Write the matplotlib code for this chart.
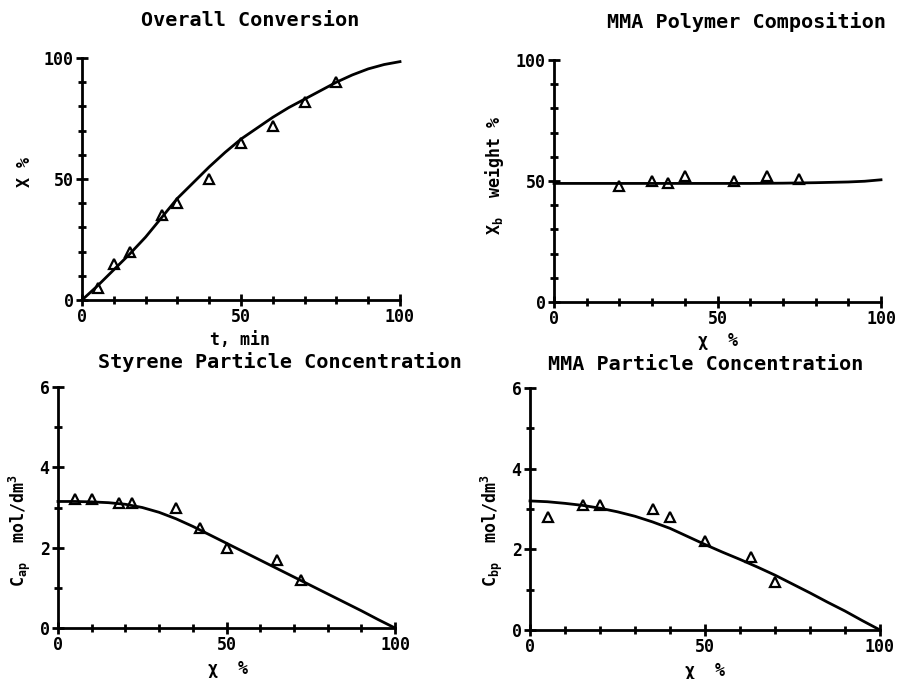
import numpy as np
import matplotlib
matplotlib.use("Agg")
import matplotlib.pyplot as plt
from matplotlib.ticker import MultipleLocator

plt.rcParams["font.family"] = "DejaVu Sans Mono"
plt.rcParams["font.weight"] = "bold"
plt.rcParams["mathtext.default"] = "regular"

# overall conversion vs time
conv_t = [5, 10, 15, 25, 30, 40, 50, 60, 70, 80]
conv_x = [5, 15, 20, 35, 40, 50, 65, 72, 82, 90]
conv_model_t = [0, 5, 10, 15, 20, 25, 30, 35, 40, 45, 50, 55, 60, 65, 70,
                75, 80, 85, 90, 95, 100]
conv_model_x = [0, 6, 12.5, 19, 26, 34, 42, 48.5, 55, 61, 66.5, 71, 75.5,
                79.5, 83, 86.5, 90, 93, 95.5, 97.3, 98.5]

# MMA polymer composition vs conversion
comp_x = [20, 30, 35, 40, 55, 65, 75]
comp_y = [48, 50, 49, 52, 50, 52, 51]
comp_model_x = [0, 20, 40, 60, 70, 80, 90, 95, 100]
comp_model_y = [49, 49, 49, 49, 49.1, 49.3, 49.6, 49.9, 50.5]

# styrene particle concentration vs conversion
sty_x = [5, 10, 18, 22, 35, 42, 50, 65, 72]
sty_y = [3.2, 3.2, 3.1, 3.1, 3.0, 2.5, 2.0, 1.7, 1.2]
sty_model_x = [0, 5, 10, 15, 20, 25, 30, 35, 40, 45, 50, 55, 60, 65, 70,
               75, 80, 85, 90, 95, 100]
sty_model_y = [3.15, 3.15, 3.14, 3.12, 3.08, 3.0, 2.88, 2.72, 2.53, 2.32,
               2.11, 1.9, 1.69, 1.48, 1.27, 1.06, 0.85, 0.64, 0.43, 0.21, 0]

# MMA particle concentration vs conversion
mma_x = [5, 15, 20, 35, 40, 50, 63, 70]
mma_y = [2.8, 3.1, 3.1, 3.0, 2.8, 2.2, 1.8, 1.2]
mma_model_x = [0, 5, 10, 15, 20, 25, 30, 35, 40, 45, 50, 55, 60, 65, 70,
               75, 80, 85, 90, 95, 100]
mma_model_y = [3.2, 3.18, 3.14, 3.09, 3.02, 2.93, 2.82, 2.68, 2.52, 2.32,
               2.12, 1.93, 1.75, 1.56, 1.36, 1.14, 0.92, 0.69, 0.47, 0.23, 0]

W, H = 898, 679
fig = plt.figure(figsize=(W / 100, H / 100), dpi=100)


def box(l, r, t, b):
    return [l / W, 1 - b / H, (r - l) / W, (b - t) / H]


def style(ax, ymax, ymajor, yminor):
    ax.set_xlim(0, 100)
    ax.set_ylim(0, ymax)
    for s in ["top", "right"]:
        ax.spines[s].set_visible(False)
    for s in ["left", "bottom"]:
        ax.spines[s].set_linewidth(2)
    ax.xaxis.set_major_locator(MultipleLocator(50))
    ax.xaxis.set_minor_locator(MultipleLocator(10))
    ax.yaxis.set_major_locator(MultipleLocator(ymajor))
    ax.yaxis.set_minor_locator(MultipleLocator(yminor))
    ax.tick_params(which="major", direction="inout", length=8, width=2,
                   labelsize=12, pad=2)
    ax.tick_params(which="minor", direction="inout", length=6, width=2)
    ax.patch.set_alpha(0)


def draw(ax, mx, my, px, py):
    ax.plot(mx, my, color="black", lw=2, clip_on=False)
    ax.plot(px, py, linestyle="none", marker="^", ms=7.5, mfc="none",
            mec="black", mew=1.6, clip_on=False)


ax1 = fig.add_axes(box(82, 400, 58, 300))
style(ax1, 100, 50, 10)
draw(ax1, conv_model_t, conv_model_x, conv_t, conv_x)

ax2 = fig.add_axes(box(554, 881, 60, 302))
style(ax2, 100, 50, 10)
draw(ax2, comp_model_x, comp_model_y, comp_x, comp_y)

ax3 = fig.add_axes(box(58, 395, 387, 628))
style(ax3, 6, 2, 1)
draw(ax3, sty_model_x, sty_model_y, sty_x, sty_y)

ax4 = fig.add_axes(box(530, 880, 388, 630))
style(ax4, 6, 2, 1)
draw(ax4, mma_model_x, mma_model_y, mma_x, mma_y)


def label(x, y, s, size=13, rot=0):
    fig.text(x / W, 1 - y / H, s, ha="center", va="center", fontsize=size,
             rotation=rot, fontweight="bold")


label(250, 20, "Overall Conversion", 14.5)
label(746, 22, "MMA Polymer Composition", 14.5)
label(280, 362, "Styrene Particle Concentration", 14.5)
label(706, 364, "MMA Particle Concentration", 14.5)

label(240, 340, "t, min", 12)
label(25, 172, "X %", 12, 90)
label(718, 341, "χ  %", 12)
label(495, 175, "X$_b$  weight %", 12, 90)
label(228, 669, "χ  %", 12)
label(20, 530, "C$_{ap}$  mol/dm$^3$", 12, 90)
label(705, 671, "χ  %", 12)
label(492, 530, "C$_{bp}$  mol/dm$^3$", 12, 90)

fig.savefig("out.png", dpi=100)
